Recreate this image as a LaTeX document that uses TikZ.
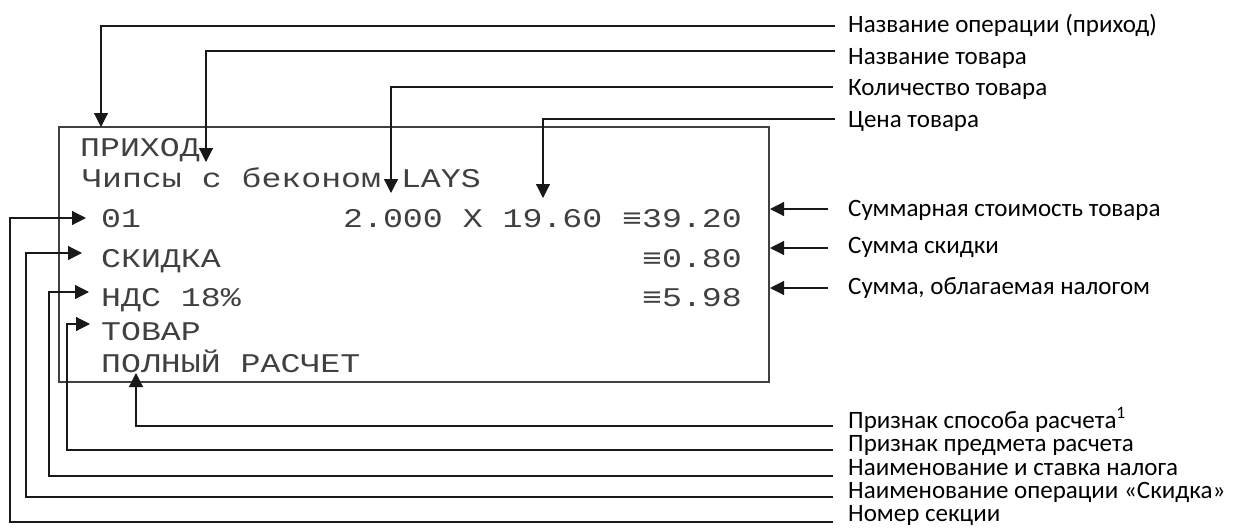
\documentclass[tikz,border=0pt]{standalone}
\usepackage{fontspec}
\setmainfont{Carlito}
\newfontfamily\rcpt[FakeStretch=1.23]{Liberation Mono}
\usetikzlibrary{arrows.meta}
\begin{document}
\begin{tikzpicture}[x=1pt,y=-1pt,
  conn/.style={line width=1.2pt,draw=black!90},
  arr/.style={conn,-{Triangle[length=14pt,width=14pt]}},
  lbl/.style={anchor=base west,inner sep=0pt,text height=14pt,text depth=3pt,font=\fontsize{25}{26}\selectfont},
  rc/.style={inner sep=0pt,text=black!75,font=\rcpt\fontsize{27}{29}\selectfont},
  boxln/.style={line width=1.5pt,draw=black!75}]
\useasboundingbox (0,0) rectangle (1251,530);
% receipt box
\draw[boxln] (59,127) rectangle (769,382);
% receipt text
\node[rc,anchor=base west] (r1) at (80,156) {ПРИХОД};
\node[rc,anchor=base west] (r2) at (82,187) {Чипсы с беконом LAYS};
\node[rc,anchor=base west] (r3a) at (101,227) {01};
\node[rc,anchor=base east] (r3b) at (742,227) {2.000 X 19.60 ≡39.20};
\node[rc,anchor=base west] (r4a) at (101,267) {СКИДКА};
\node[rc,anchor=base east] (r4b) at (742,267) {≡0.80};
\node[rc,anchor=base west] (r5a) at (101,306) {НДС 18\%};
\node[rc,anchor=base east] (r5b) at (742,306) {≡5.98};
\node[rc,anchor=base west] (r6) at (101,340) {ТОВАР};
\node[rc,anchor=base west] (r7) at (101,372) {ПОЛНЫЙ РАСЧЕТ};
% labels
\node[lbl] (l1) at (848,32) {Название операции (приход)};
\node[lbl] (l2) at (848,64) {Название товара};
\node[lbl] (l3) at (848,95) {Количество товара};
\node[lbl] (l4) at (848,127) {Цена товара};
\node[lbl] (l5) at (848,216) {Суммарная стоимость товара};
\node[lbl] (l6) at (848,253) {Сумма скидки};
\node[lbl] (l7) at (848,294) {Сумма, облагаемая налогом};
\node[lbl] (l8) at (848,428) {Признак способа расчета\textsuperscript{1}};
\node[lbl] (l9) at (848,451) {Признак предмета расчета};
\node[lbl] (l10) at (848,475) {Наименование и ставка налога};
\node[lbl] (l11) at (848,498) {Наименование операции «Скидка»};
\node[lbl] (l12) at (848,521) {Номер секции};
% connector coordinates
\coordinate (s1) at (835,26);  \coordinate (t1) at (101,127);
\coordinate (s2) at (835,51);  \coordinate (t2) at (206,162);
\coordinate (s3) at (833,87);  \coordinate (t3) at (391,193);
\coordinate (s4) at (835,119); \coordinate (t4) at (543,198);
\coordinate (s5) at (828,209); \coordinate (t5) at (770,209);
\coordinate (s6) at (828,248); \coordinate (t6) at (770,248);
\coordinate (s7) at (828,288); \coordinate (t7) at (770,288);
\coordinate (s8) at (833,426); \coordinate (t8) at (136,373);
\coordinate (s9) at (833,450); \coordinate (k9) at (67,324);  \coordinate (t9) at (90,324);
\coordinate (s10) at (833,476); \coordinate (k10) at (49,292); \coordinate (t10) at (89,292);
\coordinate (s11) at (833,497); \coordinate (k11) at (26,253); \coordinate (t11) at (82,253);
\coordinate (s12) at (833,522); \coordinate (k12) at (10,218); \coordinate (t12) at (86,218);
% connectors
\draw[arr] (s1) -| (t1);
\draw[arr] (s2) -| (t2);
\draw[arr] (s3) -| (t3);
\draw[arr] (s4) -| (t4);
\draw[arr] (s5) -- (t5);
\draw[arr] (s6) -- (t6);
\draw[arr] (s7) -- (t7);
\draw[arr] (s8) -| (t8);
\draw[arr] (s9) -| (k9) -- (t9);
\draw[arr] (s10) -| (k10) -- (t10);
\draw[arr] (s11) -| (k11) -- (t11);
\draw[arr] (s12) -| (k12) -- (t12);
\end{tikzpicture}
\end{document}
